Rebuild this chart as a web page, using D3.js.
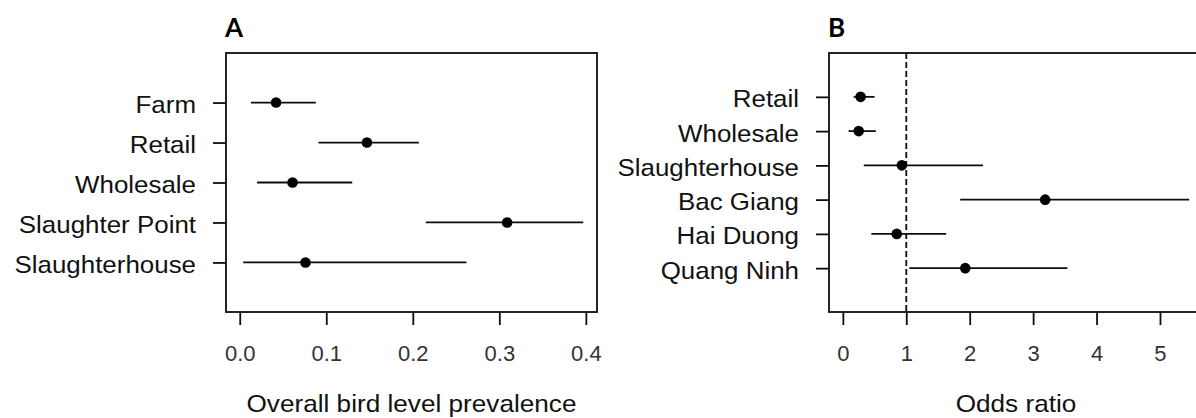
<!DOCTYPE html>
<html>
<head>
<meta charset="utf-8">
<script src="https://cdn.jsdelivr.net/npm/d3@7"></script>
<style>
  html, body { margin: 0; padding: 0; background: #fff; }
  svg { display: block; }
</style>
</head>
<body>
<svg id="chart" width="1196" height="418"></svg>
<script>
// Panel A: overall bird level prevalence by site type (estimate and 95% CI)
const catsA = ["Farm", "Retail", "Wholesale", "Slaughter Point", "Slaughterhouse"];
const estA  = [0.042, 0.147, 0.061, 0.309, 0.076];
const lowA  = [0.013, 0.091, 0.020, 0.215, 0.004];
const highA = [0.088, 0.207, 0.130, 0.397, 0.262];
const ticksA = [0, 0.1, 0.2, 0.3, 0.4];

// Panel B: odds ratios (estimate and 95% CI)
const catsB = ["Retail", "Wholesale", "Slaughterhouse", "Bac Giang", "Hai Duong", "Quang Ninh"];
const estB  = [0.28, 0.25, 0.93, 3.19, 0.85, 1.93];
const lowB  = [0.17, 0.09, 0.33, 1.85, 0.45, 1.05];
const highB = [0.50, 0.52, 2.21, 5.46, 1.63, 3.54];
const ticksB = [0, 1, 2, 3, 4, 5];

const svg = d3.select("#chart");
const FONT = "'Liberation Sans', Arial, Helvetica, sans-serif";
const plotTop = 53, plotBottom = 312, tickLen = 13;
const INK = "#0d0d0d";

// widen text horizontally around its anchor
function widen(sel, sx) {
  sel.each(function () {
    const t = d3.select(this);
    const x = +t.attr("x") || 0;
    t.attr("x", x / sx).attr("transform", `scale(${sx},1)`);
  });
}

function panel(o) {
  const g = svg.append("g");
  const n = o.cats.length;
  const xmax = d3.max(o.high);
  const pad = 0.04 * xmax;
  const x = d3.scaleLinear().domain([-pad, xmax + pad]).range([o.left, o.right]);
  const y = d3.scaleLinear().domain([-(n + 1) * 0.04, (n + 1) * 1.04]).range([plotBottom, plotTop]);
  const pos = i => n - i;

  // reference line
  if (o.refLine != null) {
    g.append("line")
      .attr("x1", x(o.refLine)).attr("x2", x(o.refLine))
      .attr("y1", plotTop).attr("y2", plotBottom)
      .attr("stroke", INK).attr("stroke-width", 1.8)
      .attr("stroke-dasharray", "6,3");
  }

  // confidence intervals
  g.selectAll("line.ci").data(o.cats).join("line")
    .attr("class", "ci")
    .attr("x1", (d, i) => x(o.low[i])).attr("x2", (d, i) => x(o.high[i]))
    .attr("y1", (d, i) => y(pos(i))).attr("y2", (d, i) => y(pos(i)))
    .attr("stroke", INK).attr("stroke-width", 1.8);

  // point estimates
  g.selectAll("circle.est").data(o.cats).join("circle")
    .attr("class", "est")
    .attr("cx", (d, i) => x(o.est[i])).attr("cy", (d, i) => y(pos(i)))
    .attr("r", 5.3).attr("fill", "#000");

  // frame
  g.append("rect")
    .attr("x", o.left).attr("y", plotTop)
    .attr("width", o.right - o.left).attr("height", plotBottom - plotTop)
    .attr("fill", "none").attr("stroke", INK).attr("stroke-width", 1.8);

  // y axis with category names
  const yAxis = d3.axisLeft(y)
    .tickValues(o.cats.map((d, i) => pos(i)))
    .tickFormat(v => o.cats[n - v])
    .tickSize(tickLen).tickPadding(17);
  const ya = g.append("g").attr("transform", `translate(${o.left},0)`).call(yAxis);
  ya.select(".domain").remove();
  ya.selectAll(".tick line").attr("stroke", INK).attr("stroke-width", 1.8);
  ya.selectAll(".tick text")
    .attr("font-family", FONT).attr("font-size", 24).attr("fill", "#111")
    .attr("dy", "0.42em");
  widen(ya.selectAll(".tick text"), 1.08);

  // x axis
  const xAxis = d3.axisBottom(x).tickValues(o.ticks).tickFormat(o.fmt).tickSize(tickLen);
  const xa = g.append("g").attr("transform", `translate(0,${plotBottom})`).call(xAxis);
  xa.select(".domain").remove();
  xa.selectAll(".tick line").attr("stroke", INK).attr("stroke-width", 1.8);
  xa.selectAll(".tick text")
    .attr("font-family", FONT).attr("font-size", 22).attr("fill", "#333")
    .attr("y", 49).attr("dy", 0);

  // axis title
  const t = g.append("text")
    .attr("x", (o.left + o.right) / 2).attr("y", 412)
    .attr("text-anchor", "middle")
    .attr("font-family", FONT).attr("font-size", 24).attr("fill", "#111")
    .text(o.title);
  widen(t, 1.09);

  // panel letter
  g.append("text")
    .attr("x", o.left - 1).attr("y", 37)
    .attr("font-family", "Lato, 'Open Sans', sans-serif").attr("font-weight", 700)
    .attr("font-size", 26).attr("fill", "#000")
    .text(o.letter);
}

panel({
  cats: catsA, est: estA, low: lowA, high: highA,
  ticks: ticksA, fmt: d3.format(".1f"),
  left: 226, right: 597,
  title: "Overall bird level prevalence", letter: "A", refLine: null
});

panel({
  cats: catsB, est: estB, low: lowB, high: highB,
  ticks: ticksB, fmt: d3.format("d"),
  left: 829, right: 1203,
  title: "Odds ratio", letter: "B", refLine: 1
});
</script>
</body>
</html>
